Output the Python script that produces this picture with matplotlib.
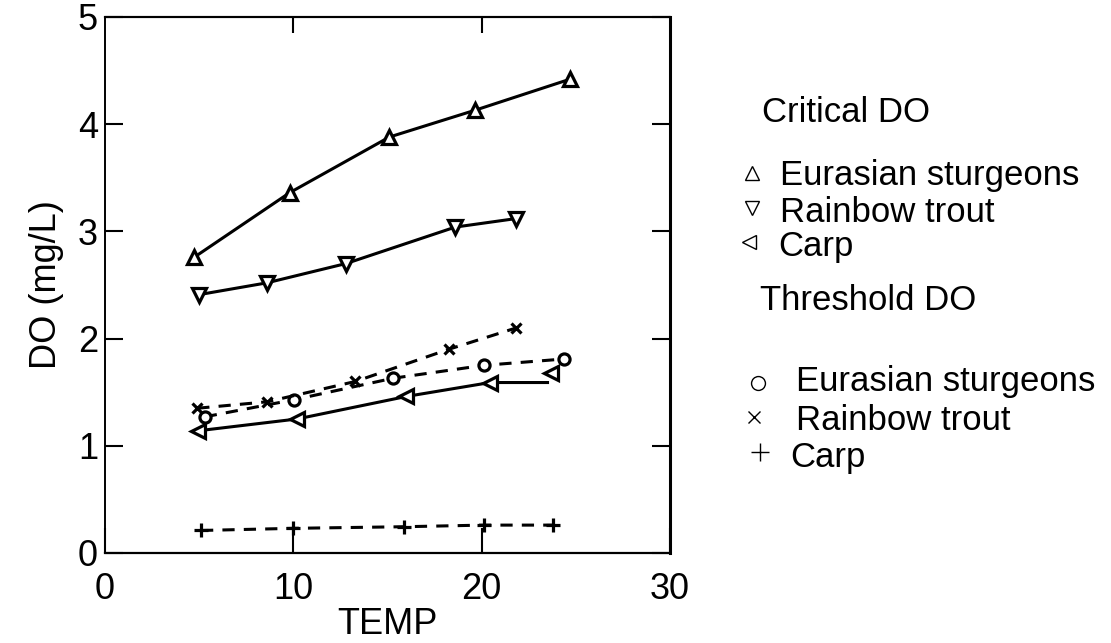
import numpy as np
import matplotlib
matplotlib.use("Agg")
import matplotlib.pyplot as plt
from matplotlib.lines import Line2D

plt.rcParams['font.family'] = ['Liberation Sans', 'DejaVu Sans']

# critical DO (solid lines)
crit_sturgeon_t = [4.75, 9.8, 15.1, 19.65, 24.7]
crit_sturgeon_do = [2.76, 3.36, 3.88, 4.13, 4.42]
crit_trout_t = [5.0, 8.6, 12.8, 18.6, 21.85]
crit_trout_do = [2.41, 2.52, 2.70, 3.04, 3.12]
crit_carp_t = [4.95, 10.2, 16.0, 20.45, 23.5]
crit_carp_do = [1.14, 1.25, 1.46, 1.59, 1.59]
crit_carp_extra_t = [23.7]
crit_carp_extra_do = [1.68]

# threshold DO (dashed lines)
thr_sturgeon_t = [5.3, 10.05, 15.3, 20.1, 24.4]
thr_sturgeon_do = [1.27, 1.43, 1.63, 1.75, 1.81]
thr_trout_t = [4.9, 8.6, 13.3, 18.25, 21.85]
thr_trout_do = [1.35, 1.41, 1.60, 1.90, 2.10]
thr_carp_t = [5.1, 10.0, 15.9, 20.1, 23.8]
thr_carp_do = [0.21, 0.23, 0.245, 0.26, 0.26]

fig = plt.figure(figsize=(11.11, 6.43), dpi=100)
ax = fig.add_axes([0.0945, 0.14, 0.5085, 0.8336])

solid = dict(color='black', lw=2.2, mfc='white', mec='black', mew=2.3)
dashed = dict(color='black', lw=2.2, ls=(0, (4, 3)), mfc='white', mec='black', mew=2.3)

ax.plot(crit_sturgeon_t, crit_sturgeon_do, marker='^', ms=9.5, **solid)
ax.plot(crit_trout_t, crit_trout_do, marker='v', ms=9.5, **solid)
ax.plot(crit_carp_t, crit_carp_do, marker='<', ms=9.5, markevery=[0, 1, 2, 3], **solid)
ax.plot(crit_carp_extra_t, crit_carp_extra_do, ls='none', marker='<', ms=9.5,
        mfc='white', mec='black', mew=2.3)

ax.plot(thr_sturgeon_t, thr_sturgeon_do, marker='o', ms=8, **dashed)
ax.plot(thr_trout_t, thr_trout_do, marker='x', ms=7.5, **dashed)
ax.plot(thr_carp_t, thr_carp_do, marker='+', ms=9.5, **dashed)

ax.set_xlim(0, 30)
ax.set_ylim(0, 5)
ax.set_xticks([0, 10, 20, 30])
ax.set_yticks([0, 1, 2, 3, 4, 5])
ax.tick_params(axis='x', direction='in', length=18, width=1.5, pad=14,
               labelsize=26, top=False)
ax.tick_params(axis='y', direction='in', length=13, width=1.5, pad=5,
               labelsize=26, right=True)

# shorter ticks along the top edge
top = ax.secondary_xaxis('top')
top.set_xticks([10, 20])
top.tick_params(direction='in', length=11.5, width=1.5, labeltop=False)
top.spines['top'].set_linewidth(1.5)

for side, w in [('left', 1.4), ('bottom', 1.6), ('top', 1.5), ('right', 2.2)]:
    ax.spines[side].set_linewidth(w)

ax.set_xlabel('TEMP', fontsize=26, labelpad=0)
ax.set_ylabel('DO (mg/L)', fontsize=26, labelpad=10)

# legend drawn by hand to the right of the axes
def fig_xy(px, py):
    return px / 1111, 1 - py / 643

def key(px, py, marker, ms):
    x, y = fig_xy(px, py)
    fig.add_artist(Line2D([x], [y], transform=fig.transFigure, ls='none',
                          marker=marker, ms=ms, mfc='white', mec='black', mew=1.0))

def label(px, py, s):
    x, y = fig_xy(px, py)
    fig.text(x, y, s, fontsize=25, va='center', ha='left')

label(762, 112, 'Critical DO')
key(752, 173, '^', 10)
label(780, 176, 'Eurasian sturgeons')
key(752, 208, 'v', 10)
label(780, 212, 'Rainbow trout')
key(749, 242, '<', 10)
label(778, 247, 'Carp')

label(760, 300, 'Threshold DO')
key(758, 383, 'o', 10)
label(796, 382, 'Eurasian sturgeons')
key(754, 417, 'x', 9)
label(796, 420, 'Rainbow trout')
key(760, 452, '+', 13)
label(790, 457, 'Carp')

fig.savefig('out.png', dpi=100)
